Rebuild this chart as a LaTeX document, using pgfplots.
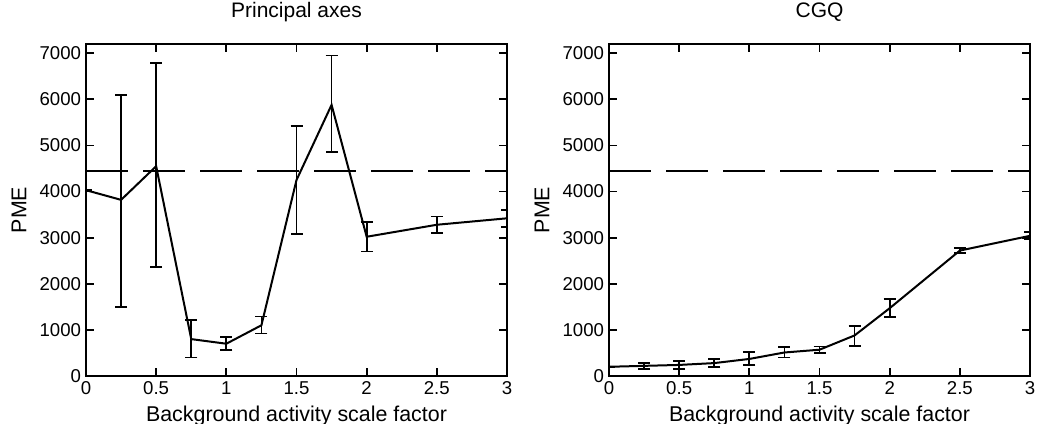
\documentclass[border=0pt]{standalone}
\usepackage{fontspec}
\setmainfont{Liberation Sans}
\usepackage{pgfplots}
\usepackage{pgfplotstable}
\pgfplotsset{compat=1.18}

\pgfplotstableread{
x y ep em
0 4030 0 0
0.25 3820 2280 2320
0.5 4550 2230 2180
0.75 800 420 400
1 700 150 140
1.25 1100 190 180
1.5 4250 1180 1170
1.75 5880 1070 1030
2 3020 320 320
2.5 3280 180 180
3 3420 180 180
}\pa

\pgfplotstableread{
x y ep em
0 200 0 0
0.25 220 60 60
0.5 240 80 90
0.75 280 90 80
1 370 150 140
1.25 510 120 110
1.5 570 70 70
1.75 880 210 230
2 1470 200 190
2.5 2720 50 50
3 3040 80 80
}\cgq

\pgfplotsset{myax/.style={
  scale only axis, width=210.5pt, height=166pt,
  xmin=0, xmax=3, ymin=0, ymax=7200,
  xtick={0,0.5,1,1.5,2,2.5,3},
  xticklabels={0,0.5,1,1.5,2,2.5,3},
  ytick={0,1000,...,7000},
  yticklabels={0,1000,2000,3000,4000,5000,6000,7000},
  tick align=inside, major tick length=4pt,
  axis line style={line width=1pt},
  every tick/.style={line width=0.9pt, black},
  /pgf/number format/assume math mode=true,
  xticklabel style={font=\fontsize{9.3}{10}\selectfont, inner sep=2.8pt},
  yticklabel style={font=\fontsize{9.3}{10}\selectfont, inner sep=2.3pt},
  xlabel={Background activity scale factor}, ylabel={PME},
  xlabel style={font=\fontsize{10.7}{12}\selectfont, at={(axis description cs:0.5,0)}, anchor=base, yshift=-22.5pt},
  ylabel style={font=\fontsize{10.7}{12}\selectfont, at={(axis description cs:-0.159,0.5)}, anchor=center},
  title style={font=\fontsize{10.5}{12}\selectfont, at={(axis description cs:0.5,1)}, anchor=base, yshift=7.5pt},
}}

\begin{document}
\begin{tikzpicture}
\begin{axis}[myax, title={Principal axes}]
\addplot[black, line width=1pt, mark=none,
  error bars/.cd, y dir=both, y explicit,
  error bar style={line width=0.9pt},
  error mark options={rotate=90, mark size=3pt, line width=0.9pt}]
  table[x=x, y=y, y error plus=ep, y error minus=em]{\pa};
\addplot[black, line width=1.1pt, dash pattern=on 21pt off 7.5pt] coordinates {(0,4440) (3,4440)};
\end{axis}
\begin{axis}[myax, at={(261.5pt,0)}, title={CGQ}]
\addplot[black, line width=1pt, mark=none,
  error bars/.cd, y dir=both, y explicit,
  error bar style={line width=0.9pt},
  error mark options={rotate=90, mark size=3pt, line width=0.9pt}]
  table[x=x, y=y, y error plus=ep, y error minus=em]{\cgq};
\addplot[black, line width=1.1pt, dash pattern=on 21pt off 7.5pt] coordinates {(0,4440) (3,4440)};
\end{axis}
\pgfresetboundingbox
\useasboundingbox (-43pt,-23.5pt) rectangle (476pt,188pt);
\end{tikzpicture}
\end{document}
